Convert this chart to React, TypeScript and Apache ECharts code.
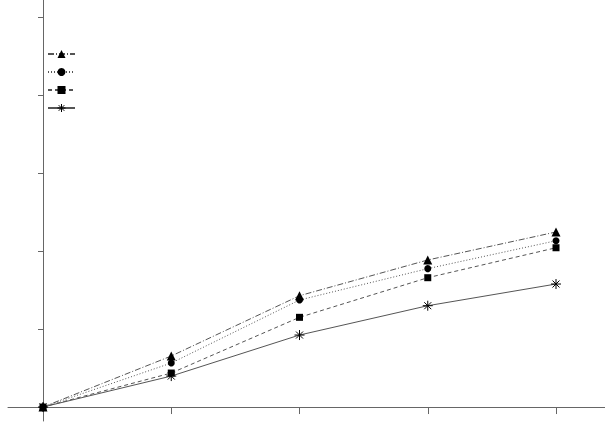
import React, { useEffect, useRef } from "react";
import * as echarts from "echarts";

const categories = [0, 1, 2, 3, 4];
const seriesNames = ["A", "B", "C", "D"];
const triangleValues = [0, 0.654, 1.427, 1.885, 2.244];
const circleValues = [0, 0.564, 1.372, 1.774, 2.132];
const squareValues = [0, 0.436, 1.15, 1.658, 2.042];
const starValues = [0, 0.397, 0.923, 1.299, 1.577];
const yTicks = [0, 1, 2, 3, 4, 5];

const STAR = "path://M0,5 L10,5 M5,0 L5,10 M1.5,1.5 L8.5,8.5 M8.5,1.5 L1.5,8.5";

export default function App() {
  const ref = useRef<HTMLDivElement>(null);
  useEffect(() => {
    if (!ref.current) return;
    const chart = echarts.init(ref.current, undefined, { renderer: "svg" });
    const mk = (vals: number[]) => vals.map((v, i) => [categories[i], v]);
    const lineColor = "#555";
    const base = (name: string, vals: number[], symbol: string, size: number, type: any) => ({
      name,
      type: "line",
      data: mk(vals),
      symbol,
      symbolSize: size,
      lineStyle: { color: lineColor, width: 1, type },
      itemStyle: { color: "#000", borderColor: "#000", borderWidth: symbol === STAR ? 1 : 0 },
      emphasis: { disabled: true },
    });
    chart.setOption({
      animation: false,
      backgroundColor: "#fff",
      grid: { left: 8, right: 0, top: 0, bottom: 12 },
      legend: {
        orient: "vertical",
        left: 47,
        top: 49,
        padding: 0,
        itemWidth: 27,
        itemHeight: 10,
        itemGap: 9,
        formatter: () => "",
        textStyle: { fontSize: 1 },
        data: seriesNames.map((n, i) =>
          i === 3
            ? { name: n, itemStyle: { color: "#000", borderColor: "#000", borderWidth: 1 } }
            : { name: n }
        ),
      },
      xAxis: {
        type: "value",
        min: -0.273,
        max: 4.382,
        splitLine: { show: false },
        axisLine: { show: true, lineStyle: { color: "#666", width: 1 } },
        axisTick: { show: true, length: 7, customValues: categories, lineStyle: { color: "#666" } },
        axisLabel: { show: false },
      },
      yAxis: {
        type: "value",
        min: -0.179,
        max: 5.218,
        splitLine: { show: false },
        axisLine: { show: true, lineStyle: { color: "#666", width: 1 } },
        axisTick: { show: true, length: 5, customValues: yTicks, lineStyle: { color: "#666" } },
        axisLabel: { show: false },
      },
      series: [
        base(seriesNames[0], triangleValues, "triangle", 9, [6, 2, 1, 2]),
        base(seriesNames[1], circleValues, "circle", 7, [1, 2]),
        base(seriesNames[2], squareValues, "rect", 7, [4, 3]),
        base(seriesNames[3], starValues, STAR, 10, "solid"),
      ],
    });
    return () => chart.dispose();
  }, []);
  return (
    <div
      ref={ref}
      style={{ position: "fixed", left: 0, top: 0, width: 605, height: 433 }}
    />
  );
}
